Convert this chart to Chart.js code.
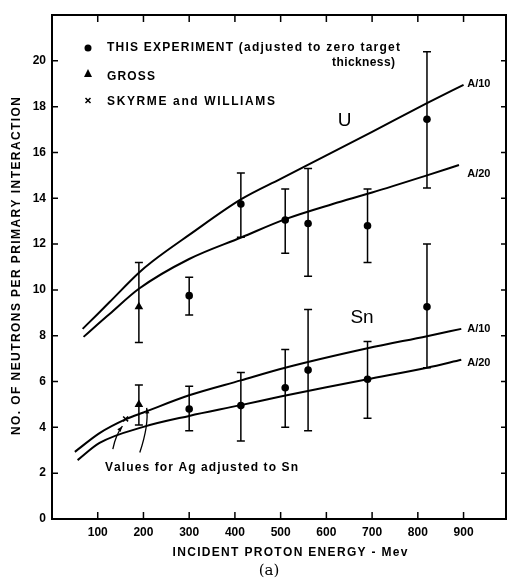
<!DOCTYPE html>
<html>
<head>
<meta charset="utf-8">
<script src="https://cdn.jsdelivr.net/npm/chart.js@4.4.1/dist/chart.umd.min.js"></script>
<style>
  html, body { margin: 0; background: #fff; }
  #wrap { width: 507px; height: 581px; }
</style>
</head>
<body>
<div id="wrap"><canvas id="chart"></canvas></div>
<script>
// tick values
const xTicks = [100, 200, 300, 400, 500, 600, 700, 800, 900];
const yTicks = [0, 2, 4, 6, 8, 10, 12, 14, 16, 18, 20];

// theoretical curves (energy in Mev, neutrons per interaction)
const uA10E = [67, 100, 126, 190, 220, 300, 413, 500, 600, 700, 820, 900];
const uA10 = [8.3, 8.95, 9.47, 10.75, 11.25, 12.4, 13.95, 14.85, 15.87, 16.9, 18.15, 18.95];
const uA20E = [69, 100, 126, 190, 300, 415, 512, 614, 700, 820, 890];
const uA20 = [7.95, 8.5, 8.95, 10.05, 11.35, 12.3, 13.1, 13.75, 14.25, 15.0, 15.45];
const snA10E = [50, 104, 163, 200, 300, 413, 510, 690, 820, 895];
const snA10 = [2.93, 3.75, 4.37, 4.65, 5.4, 6.05, 6.6, 7.45, 7.98, 8.3];
const snA20E = [56, 104, 200, 300, 413, 500, 600, 690, 820, 895];
const snA20 = [2.57, 3.32, 4.02, 4.5, 4.97, 5.35, 5.75, 6.1, 6.6, 6.95];

// this experiment
const expE = [300, 413, 510, 560, 690, 820];
const uExp = [9.75, 13.75, 13.05, 12.9, 12.8, 17.45];
const uLow = [8.9, 12.3, 11.6, 10.6, 11.2, 14.45];
const uHigh = [10.55, 15.1, 14.4, 15.3, 14.4, 20.4];
const snExp = [4.8, 4.95, 5.73, 6.5, 6.1, 9.26];
const snLow = [3.85, 3.4, 4.0, 3.85, 4.4, 6.6];
const snHigh = [5.8, 6.4, 7.4, 9.15, 7.75, 12.0];

// Gross
const grossE = [190, 190];
const grossVal = [9.26, 5.0];
const grossLow = [7.7, 4.1];
const grossHigh = [11.2, 5.85];

// Skyrme and Williams
const skyrmeE = [161];
const skyrmeVal = [4.37];

const FONT = 'Liberation Sans, Arial, sans-serif';

function pts(xs, ys) {
    return xs.map((x, i) => ({ x: x, y: ys[i] }));
}

function curve(xs, ys) {
    return {
        type: 'line', data: pts(xs, ys), showLine: true,
        borderColor: '#000', borderWidth: 2, pointRadius: 0,
        tension: 0.4, cubicInterpolationMode: 'monotone', fill: false
    };
}

// draw text stretched to a given width
function spaced(ctx, text, x, y, width, align) {
    const chars = text.split('');
    const w0 = chars.reduce((s, c) => s + ctx.measureText(c).width, 0);
    const sp = chars.length > 1 ? (width - w0) / (chars.length - 1) : 0;
    let cx = align === 'center' ? x - width / 2 : (align === 'right' ? x - width : x);
    ctx.textAlign = 'left';
    chars.forEach(c => {
        ctx.fillText(c, cx, y);
        cx += ctx.measureText(c).width + sp;
    });
}

function arrowHead(ctx, from, to) {
    const ang = Math.atan2(to[1] - from[1], to[0] - from[0]);
    ctx.beginPath();
    ctx.moveTo(to[0], to[1]);
    ctx.lineTo(to[0] - 6 * Math.cos(ang - 0.35), to[1] - 6 * Math.sin(ang - 0.35));
    ctx.lineTo(to[0] - 6 * Math.cos(ang + 0.35), to[1] - 6 * Math.sin(ang + 0.35));
    ctx.closePath();
    ctx.fill();
}

const decor = {
    id: 'decor',
    beforeDatasetsDraw(chart) {
        const ctx = chart.ctx, xs = chart.scales.x, ys = chart.scales.y;
        ctx.save();
        ctx.strokeStyle = '#000';
        ctx.lineWidth = 1.5;
        chart.data.datasets.forEach(ds => {
            if (!ds.err) return;
            ds.data.forEach((p, i) => {
                const px = xs.getPixelForValue(p.x);
                const y1 = ys.getPixelForValue(ds.err[0][i]);
                const y2 = ys.getPixelForValue(ds.err[1][i]);
                ctx.beginPath();
                ctx.moveTo(px, y1); ctx.lineTo(px, y2);
                ctx.moveTo(px - 4, y1); ctx.lineTo(px + 4, y1);
                ctx.moveTo(px - 4, y2); ctx.lineTo(px + 4, y2);
                ctx.stroke();
            });
        });
        ctx.restore();
    },
    afterDraw(chart) {
        const ctx = chart.ctx, a = chart.chartArea;
        const xs = chart.scales.x, ys = chart.scales.y;
        ctx.save();
        ctx.strokeStyle = '#000';
        ctx.fillStyle = '#000';
        // frame and inward ticks
        ctx.lineWidth = 2;
        ctx.strokeRect(a.left, a.top, a.right - a.left - 1, a.bottom - a.top);
        ctx.lineWidth = 1.5;
        ctx.beginPath();
        xTicks.forEach(v => {
            const px = xs.getPixelForValue(v);
            ctx.moveTo(px, a.bottom); ctx.lineTo(px, a.bottom - 7);
            ctx.moveTo(px, a.top); ctx.lineTo(px, a.top + 7);
        });
        yTicks.forEach(v => {
            if (v === 0) return;
            const py = ys.getPixelForValue(v);
            ctx.moveTo(a.left, py); ctx.lineTo(a.left + 6, py);
            ctx.moveTo(a.right, py); ctx.lineTo(a.right - 6, py);
        });
        ctx.stroke();

        // axis titles
        ctx.textBaseline = 'middle';
        ctx.font = 'bold 12px ' + FONT;
        spaced(ctx, 'INCIDENT PROTON ENERGY - Mev', 290, 553, 235, 'center');
        ctx.save();
        ctx.translate(17, 266);
        ctx.rotate(-Math.PI / 2);
        spaced(ctx, 'NO. OF NEUTRONS PER PRIMARY INTERACTION', 0, 0, 338, 'center');
        ctx.restore();
        ctx.font = '15px DejaVu Serif, serif';
        ctx.textAlign = 'center';
        ctx.fillText('(a)', 269, 571);

        // legend
        ctx.font = 'bold 12px ' + FONT;
        spaced(ctx, 'THIS EXPERIMENT (adjusted to zero target', 107, 48, 293, 'left');
        spaced(ctx, 'thickness)', 395, 63, 63, 'right');
        spaced(ctx, 'GROSS', 107, 77, 48, 'left');
        spaced(ctx, 'SKYRME and WILLIAMS', 107, 102, 168, 'left');
        ctx.beginPath();
        ctx.arc(88, 48, 3.5, 0, Math.PI * 2);
        ctx.fill();
        ctx.beginPath();
        ctx.moveTo(88, 69); ctx.lineTo(92, 77); ctx.lineTo(84, 77); ctx.closePath();
        ctx.fill();
        ctx.lineWidth = 1.5;
        ctx.beginPath();
        ctx.moveTo(85.5, 98); ctx.lineTo(90.5, 103);
        ctx.moveTo(90.5, 98); ctx.lineTo(85.5, 103);
        ctx.stroke();

        // curve labels
        ctx.font = '19px ' + FONT;
        ctx.textAlign = 'center';
        ctx.fillText('U', xs.getPixelForValue(640), ys.getPixelForValue(17.4));
        ctx.fillText('Sn', xs.getPixelForValue(678), ys.getPixelForValue(8.8));
        ctx.font = 'bold 11px ' + FONT;
        ctx.textAlign = 'left';
        [['A/10', 19.0], ['A/20', 15.05], ['A/10', 8.3], ['A/20', 6.8]].forEach(l => {
            ctx.fillText(l[0], xs.getPixelForValue(908), ys.getPixelForValue(l[1]));
        });

        // note with arrows
        ctx.font = 'bold 12px ' + FONT;
        spaced(ctx, 'Values for Ag adjusted to Sn', 105, 468, 193, 'left');
        ctx.lineWidth = 1.3;
        const P = (e, v) => [xs.getPixelForValue(e), ys.getPixelForValue(v)];
        let s = P(133, 3.05), c = P(140, 3.7), t = P(154, 4.05);
        ctx.beginPath(); ctx.moveTo(s[0], s[1]); ctx.quadraticCurveTo(c[0], c[1], t[0], t[1]); ctx.stroke();
        arrowHead(ctx, c, t);
        s = P(192, 2.9); c = P(212, 4.1); t = P(207, 4.85);
        ctx.beginPath(); ctx.moveTo(s[0], s[1]); ctx.quadraticCurveTo(c[0], c[1], t[0], t[1]); ctx.stroke();
        arrowHead(ctx, c, t);
        ctx.restore();
    }
};

new Chart(document.getElementById('chart'), {
    type: 'scatter',
    data: {
        datasets: [
            curve(uA10E, uA10),
            curve(uA20E, uA20),
            curve(snA10E, snA10),
            curve(snA20E, snA20),
            {
                label: 'THIS EXPERIMENT (U)', data: pts(expE, uExp), err: [uLow, uHigh],
                pointStyle: 'circle', pointRadius: 3.8, backgroundColor: '#000', borderColor: '#000', borderWidth: 0
            },
            {
                label: 'THIS EXPERIMENT (Sn)', data: pts(expE, snExp), err: [snLow, snHigh],
                pointStyle: 'circle', pointRadius: 3.8, backgroundColor: '#000', borderColor: '#000', borderWidth: 0
            },
            {
                label: 'GROSS', data: pts(grossE, grossVal), err: [grossLow, grossHigh],
                pointStyle: 'triangle', pointRadius: 5, backgroundColor: '#000', borderColor: '#000', borderWidth: 0
            },
            {
                label: 'SKYRME and WILLIAMS', data: pts(skyrmeE, skyrmeVal),
                pointStyle: 'crossRot', pointRadius: 3.5, borderColor: '#000', borderWidth: 1.5
            }
        ]
    },
    options: {
        responsive: true,
        maintainAspectRatio: false,
        animation: false,
        devicePixelRatio: 1,
        layout: { autoPadding: false, padding: { top: 15, right: 0, left: 0, bottom: 0 } },
        plugins: { legend: { display: false }, tooltip: { enabled: false } },
        scales: {
            x: {
                type: 'linear', min: 0, max: 995,
                grid: { display: false, drawTicks: false },
                border: { display: false },
                afterBuildTicks: s => { s.ticks = xTicks.map(v => ({ value: v })); },
                afterFit: s => { s.height = 62; },
                ticks: { color: '#000', padding: 6, maxRotation: 0, font: { family: FONT, size: 12, weight: 'bold' } }
            },
            y: {
                type: 'linear', min: 0, max: 22,
                grid: { display: false, drawTicks: false },
                border: { display: false },
                afterBuildTicks: s => { s.ticks = yTicks.map(v => ({ value: v })); },
                afterFit: s => { s.width = 52; },
                ticks: { color: '#000', padding: 6, font: { family: FONT, size: 12, weight: 'bold' } }
            }
        }
    },
    plugins: [decor]
});
</script>
</body>
</html>
